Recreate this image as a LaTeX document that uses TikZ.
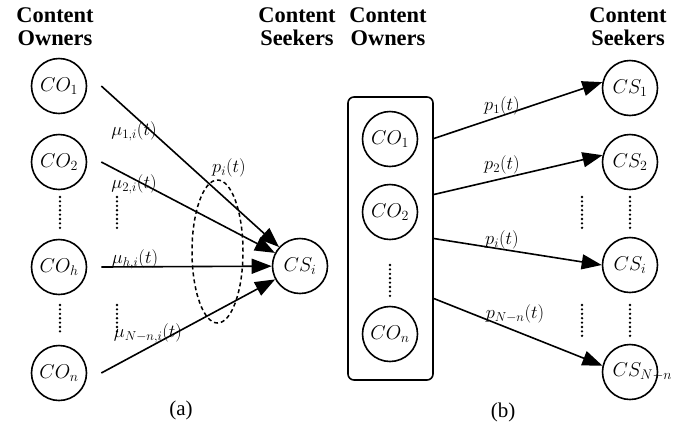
\RequirePackage{fix-cm}
\documentclass[tikz,border=0pt]{standalone}
\usepackage{fontspec}
\setmainfont{Liberation Serif}
\usetikzlibrary{arrows.meta,shapes.geometric}

\tikzset{
  ent/.style={circle, draw, line width=1.6pt, minimum size=55pt, inner sep=0pt,
              font=\fontsize{20}{24}\selectfont},
  lbl/.style={inner sep=0pt, font=\fontsize{18.5}{22}\selectfont},
  hdr/.style={inner sep=0pt, align=center, font=\fontsize{22.4}{23}\selectfont\bfseries},
  sublbl/.style={inner sep=0pt, font=\fontsize{21}{24}\selectfont},
  conn/.style={line width=1.6pt, -{Triangle[length=20pt,width=15pt]}},
  vdots/.style={line width=2.6pt, line cap=round, dash pattern=on 0pt off 4.4pt},
  pool/.style={ellipse, draw, line width=1.5pt, dash pattern=on 4pt off 3pt,
               minimum width=51pt, minimum height=143pt, inner sep=0pt},
  grp/.style={draw, line width=1.6pt, rounded corners=6pt, minimum width=85pt,
              minimum height=283pt, inner sep=0pt}
}

\begin{document}
\begin{tikzpicture}[x=1pt, y=-1pt]
\useasboundingbox (0,0) rectangle (692,432);

% ---------- (a): many owners feeding one seeker ----------
\node[hdr] (hOa) at (55,27) {Content\\Owners};
\node[hdr] (hSa) at (297,27) {Content\\Seekers};

\node[ent] (COa1) at (59,86)  {$CO_1$};
\node[ent] (COa2) at (59,162) {$CO_2$};
\node[ent] (COah) at (59,267) {$CO_h$};
\node[ent] (COan) at (59,373) {$CO_n$};
\node[ent] (CSi)  at (300,266) {$CS_i$};

\node[pool] (poolA) at (217.5,251.5) {};
\node[lbl] (lpA) at (229,168) {$p_i(t)$};

\draw[conn] ([xshift=14pt]COa1.east) -- (CSi);
\draw[conn] ([xshift=14pt]COa2.east) -- (CSi);
\draw[conn] ([xshift=14pt]COah.east) -- (CSi);
\draw[conn] ([xshift=14pt]COan.east) -- (CSi);

\node[lbl] (m1) at (134,131) {$\mu_{1,i}(t)$};
\node[lbl] (m2) at (134,184) {$\mu_{2,i}(t)$};
\node[lbl] (mh) at (135,259) {$\mu_{h,i}(t)$};
\node[lbl] (mn) at (148,333) {$\mu_{N-n,i}(t)$};

\draw[vdots] (60,197) -- (60,228);
\draw[vdots] (60,305) -- (60,335);
\draw[vdots] (117,197) -- (117,228);
\draw[vdots] (117,305) -- (117,335);

\node[sublbl] (capA) at (181,410) {(a)};

% ---------- (b): grouped owners serving several seekers ----------
\node[hdr] (hOb) at (388,27) {Content\\Owners};
\node[hdr] (hSb) at (628,27) {Content\\Seekers};

\node[grp] (owners) at (390.5,238.5) {};
\node[ent] (COb1) at (390,139) {$CO_1$};
\node[ent] (COb2) at (390,212) {$CO_2$};
\node[ent] (CObn) at (390,334) {$CO_n$};
\draw[vdots] (390,265) -- (390,297);

\node[ent] (CS1) at (630,88)  {$CS_1$};
\node[ent] (CS2) at (630,162) {$CS_2$};
\node[ent] (CSb) at (630,265) {$CS_i$};
\node[ent] (CSN) at (630,372) {$CS_{\makebox[0pt][l]{$\scriptstyle N-n$}\phantom{1}}$};

\draw[conn] ([yshift=100pt]owners.east) -- (CS1.168);
\draw[conn] ([yshift=44pt]owners.east)  -- (CS2.166);
\draw[conn] (owners.east) -- (CSb.west);
\draw[conn] ([yshift=-60pt]owners.east) -- (CSN.167);

\node[lbl] (p1) at (502,106) {$p_1(t)$};
\node[lbl] (p2) at (502,165) {$p_2(t)$};
\node[lbl] (pi) at (502,240) {$p_i(t)$};
\node[lbl] (pN) at (515,314) {$p_{N-n}(t)$};

\draw[vdots] (582,197) -- (582,228);
\draw[vdots] (582,305) -- (582,337);
\draw[vdots] (630,197) -- (630,228);
\draw[vdots] (630,305) -- (630,337);

\node[sublbl] (capB) at (503,412) {(b)};
\end{tikzpicture}
\end{document}
